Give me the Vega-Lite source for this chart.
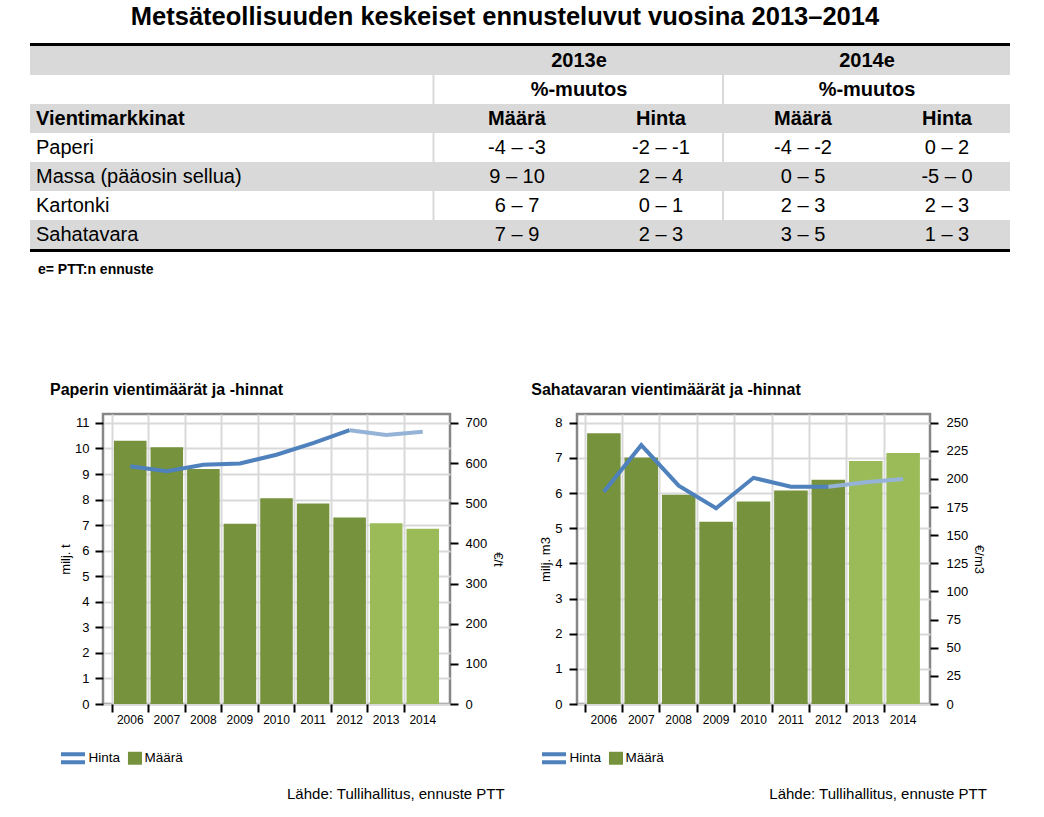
{
  "$schema": "https://vega.github.io/schema/vega-lite/v6.json",
  "background": "white",
  "padding": {"left": 28, "top": 4, "right": 10, "bottom": 5},
  "spacing": 102,
  "config": {
    "font": "Liberation Sans",
    "view": {"stroke": null},
    "title": {"color": "black", "font": "Liberation Sans"},
    "axis": {"labelFont": "Liberation Sans", "titleFont": "Liberation Sans", "labelColor": "black", "titleColor": "black"},
    "legend": {"labelFont": "Liberation Sans", "padding": 0}
  },
  "resolve": {"scale": {"color": "independent", "fill": "independent", "stroke": "independent"}, "legend": {"color": "independent"}},
  "datasets": {
    "taulukko": [
      {"rivi": 1, "j13": "2013e", "j14": "2014e"},
      {"rivi": 2, "j13": "%-muutos", "j14": "%-muutos"},
      {"rivi": 3, "nimi": "Vientimarkkinat", "m13": "Määrä", "h13": "Hinta", "m14": "Määrä", "h14": "Hinta"},
      {"rivi": 4, "nimi": "Paperi", "m13": "-4 – -3", "h13": "-2 – -1", "m14": "-4 – -2", "h14": "0 – 2"},
      {"rivi": 5, "nimi": "Massa (pääosin sellua)", "m13": "9 – 10", "h13": "2 – 4", "m14": "0 – 5", "h14": "-5 – 0"},
      {"rivi": 6, "nimi": "Kartonki", "m13": "6 – 7", "h13": "0 – 1", "m14": "2 – 3", "h14": "2 – 3"},
      {"rivi": 7, "nimi": "Sahatavara", "m13": "7 – 9", "h13": "2 – 3", "m14": "3 – 5", "h14": "1 – 3"},
      {"rivi": 8, "huomautus": "e= PTT:n ennuste"}
    ],
    "selitteet": [{"selite": "Hinta"}, {"selite": "Määrä"}],
    "paperiMaara": [
      {"vuosi": "2006", "maara": 10.3, "vaihe": "toteutunut"},
      {"vuosi": "2007", "maara": 10.05, "vaihe": "toteutunut"},
      {"vuosi": "2008", "maara": 9.2, "vaihe": "toteutunut"},
      {"vuosi": "2009", "maara": 7.05, "vaihe": "toteutunut"},
      {"vuosi": "2010", "maara": 8.05, "vaihe": "toteutunut"},
      {"vuosi": "2011", "maara": 7.85, "vaihe": "toteutunut"},
      {"vuosi": "2012", "maara": 7.3, "vaihe": "toteutunut"},
      {"vuosi": "2013", "maara": 7.07, "vaihe": "ennuste"},
      {"vuosi": "2014", "maara": 6.86, "vaihe": "ennuste"}
    ],
    "paperiHinta": [
      {"vuosi": "2006", "hinta": 592, "vaihe": "toteutunut"},
      {"vuosi": "2007", "hinta": 580, "vaihe": "toteutunut"},
      {"vuosi": "2008", "hinta": 596, "vaihe": "toteutunut"},
      {"vuosi": "2009", "hinta": 599, "vaihe": "toteutunut"},
      {"vuosi": "2010", "hinta": 621, "vaihe": "toteutunut"},
      {"vuosi": "2011", "hinta": 650, "vaihe": "toteutunut"},
      {"vuosi": "2012", "hinta": 682, "vaihe": "toteutunut"},
      {"vuosi": "2012", "hinta": 682, "vaihe": "ennuste"},
      {"vuosi": "2013", "hinta": 670, "vaihe": "ennuste"},
      {"vuosi": "2014", "hinta": 678, "vaihe": "ennuste"}
    ],
    "sahaMaara": [
      {"vuosi": "2006", "maara": 7.7, "vaihe": "toteutunut"},
      {"vuosi": "2007", "maara": 7.01, "vaihe": "toteutunut"},
      {"vuosi": "2008", "maara": 5.95, "vaihe": "toteutunut"},
      {"vuosi": "2009", "maara": 5.18, "vaihe": "toteutunut"},
      {"vuosi": "2010", "maara": 5.76, "vaihe": "toteutunut"},
      {"vuosi": "2011", "maara": 6.07, "vaihe": "toteutunut"},
      {"vuosi": "2012", "maara": 6.38, "vaihe": "toteutunut"},
      {"vuosi": "2013", "maara": 6.91, "vaihe": "ennuste"},
      {"vuosi": "2014", "maara": 7.14, "vaihe": "ennuste"}
    ],
    "sahaHinta": [
      {"vuosi": "2006", "hinta": 188.5, "vaihe": "toteutunut"},
      {"vuosi": "2007", "hinta": 230, "vaihe": "toteutunut"},
      {"vuosi": "2008", "hinta": 194, "vaihe": "toteutunut"},
      {"vuosi": "2009", "hinta": 174, "vaihe": "toteutunut"},
      {"vuosi": "2010", "hinta": 201, "vaihe": "toteutunut"},
      {"vuosi": "2011", "hinta": 193, "vaihe": "toteutunut"},
      {"vuosi": "2012", "hinta": 193, "vaihe": "toteutunut"},
      {"vuosi": "2012", "hinta": 193, "vaihe": "ennuste"},
      {"vuosi": "2013", "hinta": 197, "vaihe": "ennuste"},
      {"vuosi": "2014", "hinta": 200, "vaihe": "ennuste"}
    ]
  },
  "vconcat": [
    {
      "width": 907,
      "height": 232,
      "title": {"text": "Metsäteollisuuden keskeiset ennusteluvut vuosina 2013–2014", "anchor": "middle", "frame": "group", "dx": -51.5, "offset": 13, "fontSize": 25.5, "fontWeight": "bold"},
      "data": {"name": "taulukko"},
      "encoding": {"y": {"field": "rivi", "type": "ordinal", "scale": {"domain": [1, 2, 3, 4, 5, 6, 7, 8], "paddingInner": 0, "paddingOuter": 0}, "axis": null}},
      "layer": [
        {"transform": [{"filter": "datum.rivi % 2 === 1 && datum.rivi < 8"}], "mark": {"type": "rect", "color": "#d9d9d9"}, "encoding": {"x": {"datum": -8.049, "type": "quantitative", "scale": {"domain": [0, 100], "nice": false, "zero": false}, "axis": null}, "x2": {"datum": 100}}},
        {"transform": [{"filter": "datum.rivi % 2 === 0 && datum.rivi < 8"}], "mark": {"type": "rect", "color": "#d9d9d9"}, "encoding": {"x": {"datum": 36.33, "type": "quantitative"}, "x2": {"datum": 36.55}}},
        {"transform": [{"filter": "datum.rivi % 2 === 0 && datum.rivi < 8"}], "mark": {"type": "rect", "color": "#d9d9d9"}, "encoding": {"x": {"datum": 68.25, "type": "quantitative"}, "x2": {"datum": 68.47}}},
        {"transform": [{"filter": "datum.rivi === 1"}], "mark": {"type": "rule", "color": "black", "strokeWidth": 3, "yOffset": -1.5}, "encoding": {"x": {"datum": -8.049, "type": "quantitative"}, "x2": {"datum": 100}, "y": {"field": "rivi", "type": "ordinal", "bandPosition": 0}}},
        {"transform": [{"filter": "datum.rivi === 7"}], "mark": {"type": "rule", "color": "black", "strokeWidth": 3, "yOffset": 1.5}, "encoding": {"x": {"datum": -8.049, "type": "quantitative"}, "x2": {"datum": 100}, "y": {"field": "rivi", "type": "ordinal", "bandPosition": 1}}},
        {"transform": [{"filter": "isValid(datum.j13)"}], "mark": {"type": "text", "fontSize": 20, "fontWeight": "bold", "color": "black"}, "encoding": {"x": {"datum": 52.48, "type": "quantitative"}, "text": {"field": "j13"}}},
        {"transform": [{"filter": "isValid(datum.j14)"}], "mark": {"type": "text", "fontSize": 20, "fontWeight": "bold", "color": "black"}, "encoding": {"x": {"datum": 84.23, "type": "quantitative"}, "text": {"field": "j14"}}},
        {"transform": [{"filter": "isValid(datum.nimi)"}], "mark": {"type": "text", "fontSize": 20, "align": "left", "color": "black", "fontWeight": {"expr": "datum.rivi <= 3 ? 'bold' : 'normal'"}}, "encoding": {"x": {"datum": -7.387, "type": "quantitative"}, "text": {"field": "nimi"}}},
        {"transform": [{"filter": "isValid(datum.m13)"}], "mark": {"type": "text", "fontSize": 20, "color": "black", "fontWeight": {"expr": "datum.rivi <= 3 ? 'bold' : 'normal'"}}, "encoding": {"x": {"datum": 45.645, "type": "quantitative"}, "text": {"field": "m13"}}},
        {"transform": [{"filter": "isValid(datum.h13)"}], "mark": {"type": "text", "fontSize": 20, "color": "black", "fontWeight": {"expr": "datum.rivi <= 3 ? 'bold' : 'normal'"}}, "encoding": {"x": {"datum": 61.52, "type": "quantitative"}, "text": {"field": "h13"}}},
        {"transform": [{"filter": "isValid(datum.m14)"}], "mark": {"type": "text", "fontSize": 20, "color": "black", "fontWeight": {"expr": "datum.rivi <= 3 ? 'bold' : 'normal'"}}, "encoding": {"x": {"datum": 77.18, "type": "quantitative"}, "text": {"field": "m14"}}},
        {"transform": [{"filter": "isValid(datum.h14)"}], "mark": {"type": "text", "fontSize": 20, "color": "black", "fontWeight": {"expr": "datum.rivi <= 3 ? 'bold' : 'normal'"}}, "encoding": {"x": {"datum": 93.05, "type": "quantitative"}, "text": {"field": "h14"}}},
        {"transform": [{"filter": "isValid(datum.huomautus)"}], "mark": {"type": "text", "fontSize": 14, "fontWeight": "bold", "align": "left", "dy": 6.5, "color": "black"}, "encoding": {"x": {"datum": -7.166, "type": "quantitative"}, "text": {"field": "huomautus"}}}
      ]
    },
    {
      "spacing": 25,
      "resolve": {"scale": {"color": "independent", "fill": "independent", "stroke": "independent"}, "legend": {"color": "independent"}},
      "hconcat": [
        {
          "title": {"text": "Lähde: Tullihallitus, ennuste PTT", "orient": "bottom", "anchor": "end", "frame": "bounds", "dx": -0.3, "offset": 21, "fontSize": 15, "fontWeight": "normal"},
          "resolve": {"scale": {"color": "independent", "fill": "independent", "stroke": "independent"}, "legend": {"color": "independent"}},
          "vconcat": [
            {
              "width": 347,
              "height": 290,
              "view": {"stroke": "#878787", "strokeWidth": 2.5},
              "title": {"text": "Paperin vientimäärät ja -hinnat", "anchor": "start", "frame": "group", "dx": -53, "offset": 16, "fontSize": 16, "fontWeight": "bold"},
              "layer": [
                {
                  "data": {"name": "paperiMaara"},
                  "mark": {"type": "bar"},
                  "encoding": {
                    "x": {"field": "vuosi", "type": "ordinal", "scale": {"paddingInner": 0.11, "paddingOuter": 0.3}, "axis": {"title": null, "bandPosition": -0.06, "labelAngle": 0, "labelFontSize": 12, "labelPadding": 2, "tickSize": 8, "tickWidth": 2, "tickColor": "black", "domain": false, "grid": true, "gridColor": "#d9d9d9", "gridWidth": 2}},
                    "y": {"field": "maara", "type": "quantitative", "scale": {"domain": [0, 11.35], "nice": false}, "axis": {"title": "milj. t", "orient": "left", "values": [0, 1, 2, 3, 4, 5, 6, 7, 8, 9, 10, 11], "tickSize": 8, "tickWidth": 2, "tickColor": "black", "domain": false, "grid": true, "gridColor": "#d9d9d9", "gridWidth": 2, "labelFontSize": 13, "labelPadding": 6, "titleFontSize": 13, "titleFontWeight": "normal", "titlePadding": 2}},
                    "fill": {"field": "vaihe", "type": "nominal", "scale": {"domain": ["toteutunut", "ennuste"], "range": ["#76923c", "#9bbb59"]}, "legend": null}
                  }
                },
                {
                  "data": {"name": "paperiHinta"},
                  "mark": {"type": "line", "strokeWidth": 4},
                  "encoding": {
                    "x": {"field": "vuosi", "type": "ordinal", "scale": {"paddingInner": 0.11, "paddingOuter": 0.3}, "axis": {"title": null, "bandPosition": -0.06, "labelAngle": 0, "labelFontSize": 12, "labelPadding": 2, "tickSize": 8, "tickWidth": 2, "tickColor": "black", "domain": false, "grid": true, "gridColor": "#d9d9d9", "gridWidth": 2}},
                    "y": {"field": "hinta", "type": "quantitative", "scale": {"domain": [0, 722.4], "nice": false}, "axis": {"title": "€/t", "orient": "right", "values": [0, 100, 200, 300, 400, 500, 600, 700], "tickSize": 8, "tickWidth": 2, "tickColor": "black", "domain": false, "grid": false, "labelFontSize": 13, "labelPadding": 7, "titleFontSize": 13, "titleFontWeight": "normal", "titlePadding": 4}},
                    "stroke": {"field": "vaihe", "type": "nominal", "scale": {"domain": ["toteutunut", "ennuste"], "range": ["#4f81bd", "#95b3d7"]}, "legend": null}
                  }
                },
                {
                  "data": {"name": "selitteet"},
                  "mark": {"type": "point", "filled": true, "opacity": 0},
                  "encoding": {
                    "color": {"field": "selite", "type": "nominal", "scale": {"domain": ["Hinta", "Määrä"], "range": ["#4f81bd", "#76923c"]}, "legend": {"title": null, "orient": "none", "legendX": -42, "legendY": 332, "direction": "horizontal", "symbolSize": 576, "labelFontSize": 13.5, "labelColor": "black", "labelOffset": 3.5, "columnPadding": 0, "encode": {"symbols": {"update": {"shape": {"signal": "datum.value === 'Hinta' ? 'M-1,-0.5H1V-0.1667H-1Z M-1,0.1667H1V0.5H-1Z' : 'M-0.42,-0.54H0.75V0.54H-0.42Z'"}, "fill": {"signal": "datum.value === 'Hinta' ? {gradient: 'linear', x1: 0, y1: 0, x2: 0.00001, y2: 1, stops: [{offset: 0, color: '#4f81bd'}, {offset: 0.5, color: '#4f81bd'}, {offset: 0.5, color: '#95b3d7'}, {offset: 1, color: '#95b3d7'}]} : '#76923c'"}, "opacity": {"value": 1}, "fillOpacity": {"value": 1}, "strokeWidth": {"value": 0}}}, "labels": {"update": {"dx": {"signal": "datum.value === 'Määrä' ? -4 : 0"}}}}}}
                  }
                }
              ],
              "resolve": {"scale": {"y": "independent"}}
            }
          ]
        },
        {
          "title": {"text": "Lähde: Tullihallitus, ennuste PTT", "orient": "bottom", "anchor": "end", "frame": "bounds", "dx": 1, "offset": 21, "fontSize": 15, "fontWeight": "normal"},
          "resolve": {"scale": {"color": "independent", "fill": "independent", "stroke": "independent"}, "legend": {"color": "independent"}},
          "vconcat": [
            {
              "width": 353,
              "height": 290,
              "view": {"stroke": "#878787", "strokeWidth": 2.5},
              "title": {"text": "Sahatavaran vientimäärät ja -hinnat", "anchor": "start", "frame": "group", "dx": -45.7, "offset": 16, "fontSize": 16, "fontWeight": "bold"},
              "layer": [
                {
                  "data": {"name": "sahaMaara"},
                  "mark": {"type": "bar"},
                  "encoding": {
                    "x": {"field": "vuosi", "type": "ordinal", "scale": {"paddingInner": 0.104, "paddingOuter": 0.27}, "axis": {"title": null, "bandPosition": -0.06, "labelAngle": 0, "labelFontSize": 12, "labelPadding": 2, "tickSize": 8, "tickWidth": 2, "tickColor": "black", "domain": false, "grid": true, "gridColor": "#d9d9d9", "gridWidth": 2}},
                    "y": {"field": "maara", "type": "quantitative", "scale": {"domain": [0, 8.248], "nice": false}, "axis": {"title": "milj. m3", "orient": "left", "values": [0, 1, 2, 3, 4, 5, 6, 7, 8], "tickSize": 8, "tickWidth": 2, "tickColor": "black", "domain": false, "grid": true, "gridColor": "#d9d9d9", "gridWidth": 2, "labelFontSize": 13, "labelPadding": 7, "titleFontSize": 13, "titleFontWeight": "normal", "titlePadding": 2}},
                    "fill": {"field": "vaihe", "type": "nominal", "scale": {"domain": ["toteutunut", "ennuste"], "range": ["#76923c", "#9bbb59"]}, "legend": null}
                  }
                },
                {
                  "data": {"name": "sahaHinta"},
                  "mark": {"type": "line", "strokeWidth": 4},
                  "encoding": {
                    "x": {"field": "vuosi", "type": "ordinal", "scale": {"paddingInner": 0.104, "paddingOuter": 0.27}, "axis": {"title": null, "bandPosition": -0.06, "labelAngle": 0, "labelFontSize": 12, "labelPadding": 2, "tickSize": 8, "tickWidth": 2, "tickColor": "black", "domain": false, "grid": true, "gridColor": "#d9d9d9", "gridWidth": 2}},
                    "y": {"field": "hinta", "type": "quantitative", "scale": {"domain": [0, 257.7], "nice": false}, "axis": {"title": "€/m3", "orient": "right", "values": [0, 25, 50, 75, 100, 125, 150, 175, 200, 225, 250], "tickSize": 8, "tickWidth": 2, "tickColor": "black", "domain": false, "grid": false, "labelFontSize": 13, "labelPadding": 8, "titleFontSize": 13, "titleFontWeight": "normal", "titlePadding": 4}},
                    "stroke": {"field": "vaihe", "type": "nominal", "scale": {"domain": ["toteutunut", "ennuste"], "range": ["#4f81bd", "#95b3d7"]}, "legend": null}
                  }
                },
                {
                  "data": {"name": "selitteet"},
                  "mark": {"type": "point", "filled": true, "opacity": 0},
                  "encoding": {
                    "color": {"field": "selite", "type": "nominal", "scale": {"domain": ["Hinta", "Määrä"], "range": ["#4f81bd", "#76923c"]}, "legend": {"title": null, "orient": "none", "legendX": -35, "legendY": 332, "direction": "horizontal", "symbolSize": 576, "labelFontSize": 13.5, "labelColor": "black", "labelOffset": 3.5, "columnPadding": 0, "encode": {"symbols": {"update": {"shape": {"signal": "datum.value === 'Hinta' ? 'M-1,-0.5H1V-0.1667H-1Z M-1,0.1667H1V0.5H-1Z' : 'M-0.42,-0.54H0.75V0.54H-0.42Z'"}, "fill": {"signal": "datum.value === 'Hinta' ? {gradient: 'linear', x1: 0, y1: 0, x2: 0.00001, y2: 1, stops: [{offset: 0, color: '#4f81bd'}, {offset: 0.5, color: '#4f81bd'}, {offset: 0.5, color: '#95b3d7'}, {offset: 1, color: '#95b3d7'}]} : '#76923c'"}, "opacity": {"value": 1}, "fillOpacity": {"value": 1}, "strokeWidth": {"value": 0}}}, "labels": {"update": {"dx": {"signal": "datum.value === 'Määrä' ? -4 : 0"}}}}}}
                  }
                }
              ],
              "resolve": {"scale": {"y": "independent"}}
            }
          ]
        }
      ]
    }
  ]
}
